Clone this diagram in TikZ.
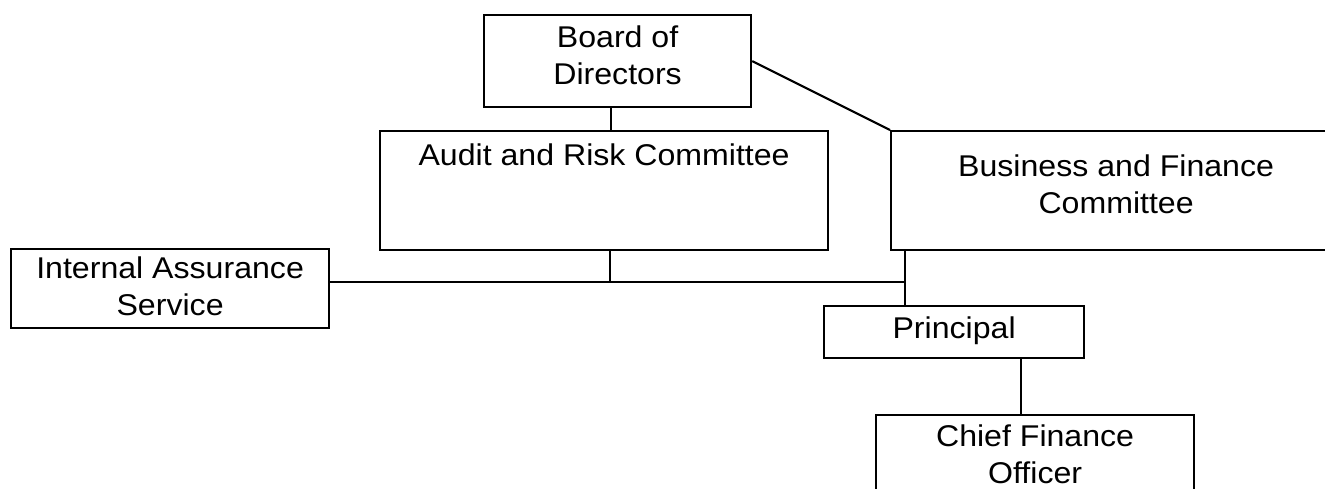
\documentclass[tikz,border=0pt]{standalone}
\usepackage{fontspec}
\setmainfont{Liberation Sans}[FakeStretch=1.07]
\newcommand{\twol}[2]{\vtop{\halign{\hfil##\hfil\cr #1\cr #2\cr}}}
\begin{document}
\begin{tikzpicture}[x=1pt,y=-1pt,
  box/.style={draw, line width=2.2pt, inner sep=0pt, anchor=north west,
    font=\fontsize{30}{37}\selectfont},
  conn/.style={line width=2.2pt}]
\useasboundingbox (0,0) rectangle (1325,488);
\node[box, minimum width=267pt, text height=32pt, text depth=60pt] (board) at (483,14) {\twol{Board of}{Directors}};
\node[box, minimum width=448pt, text height=34pt, text depth=85pt] (audit) at (379,130) {Audit and Risk Committee};
\node[box, minimum width=450pt, text height=45pt, text depth=74pt] (biz) at (890,130) {\twol{Business and Finance}{Committee}\hspace{18pt}};
\node[box, minimum width=318pt, text height=29pt, text depth=50pt] (ias) at (10,248) {\twol{Internal Assurance}{Service}};
\node[box, minimum width=260pt, text height=32pt, text depth=20pt] (principal) at (823,305) {Principal};
\node[box, minimum width=318pt, text height=31pt, text depth=100pt] (cfo) at (875,414) {\twol{Chief Finance}{Officer}};
\coordinate (x1) at (611,0);
\coordinate (x2) at (610,0);
\coordinate (j) at (905,282);
\coordinate (x3) at (1021,0);
\draw[conn] (x1 |- board.south) -- (x1 |- audit.north);
\draw[conn] (board.east) -- (biz.north west);
\draw[conn] (x2 |- audit.south) -- (x2 |- j);
\draw[conn] (ias.east |- j) -- (j);
\draw[conn] (j |- biz.south) -- (j |- principal.north);
\draw[conn] (x3 |- principal.south) -- (x3 |- cfo.north);
\end{tikzpicture}
\end{document}
